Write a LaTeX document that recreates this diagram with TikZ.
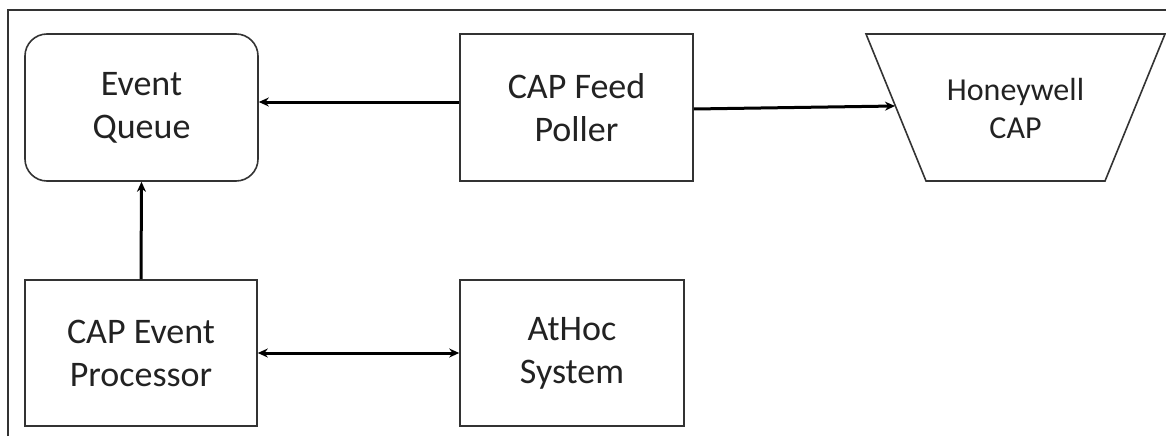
\documentclass[tikz,border=0pt]{standalone}
\usepackage{fontspec}
\setmainfont{Carlito}
\usetikzlibrary{arrows.meta}
\definecolor{edge}{HTML}{333333}
\definecolor{txt}{HTML}{222222}
\tikzset{
  box/.style={draw=edge,line width=1.6pt,minimum width=233pt,minimum height=147pt,inner sep=0pt,align=center,text=txt,
    font=\fontsize{36}{43}\selectfont},
  rbox/.style={box,rounded corners=22pt},
  conn/.style={line width=3pt,black,-{Stealth[length=10pt,width=9pt]}},
  biconn/.style={line width=3pt,black,{Stealth[length=10pt,width=9pt]}-{Stealth[length=10pt,width=9pt]}},
}
\begin{document}
\begin{tikzpicture}[x=1pt,y=-1pt]
\useasboundingbox (0,0) rectangle (1166,436);
\draw[edge,line width=1.6pt] (8,436) -- (8,10) -- (1166,10);
\node[rbox] (queue) at (141.5,107.5) {Event\\Queue};
\node[box,minimum width=233pt] (poller) at (576.5,107.5) {CAP Feed\\Poller};
\draw[edge,line width=1.6pt] (866,34) -- (1165,34) -- (1105,181) -- (926,181) -- cycle;
\node[inner sep=0pt,align=center,text=txt,font=\fontsize{32}{38}\selectfont] (hw) at (1015.5,108) {Honeywell\\CAP};
\coordinate (hwin) at (895,106);
\node[box,minimum width=232pt,minimum height=146pt] (proc) at (141,353) {CAP Event\\Processor};
\node[box,minimum width=224pt,minimum height=146pt] (athoc) at (572,353) {AtHoc\\System};
\draw[conn] ([yshift=5.5pt]poller.west) -- ([yshift=5.5pt]queue.east);
\draw[conn] ([yshift=-1.5pt]poller.east) -- (hwin);
\draw[conn] (proc.north) -- (queue.south);
\draw[biconn] (proc.east) -- (athoc.west);
\end{tikzpicture}
\end{document}
